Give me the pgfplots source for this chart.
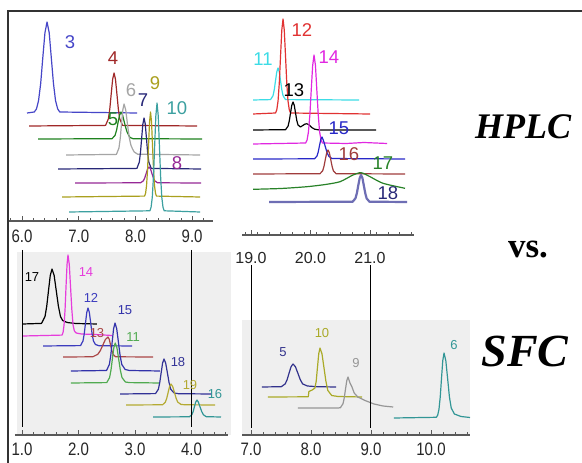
\documentclass[border=0pt]{standalone}
\usepackage{pgfplots}
\pgfplotsset{compat=1.18}
\usepackage{fontspec}
\setmainfont{Liberation Sans}
\newfontfamily\timesfont{Liberation Serif}
\definecolor{c3}{RGB}{70,70,200}
\definecolor{c4}{RGB}{160,40,40}
\definecolor{c5}{RGB}{30,130,30}
\definecolor{c6}{RGB}{165,165,165}
\definecolor{c7}{RGB}{40,40,120}
\definecolor{c8}{RGB}{150,40,150}
\definecolor{c9}{RGB}{170,160,30}
\definecolor{c10}{RGB}{60,160,160}
\definecolor{c11}{RGB}{60,220,230}
\definecolor{c12}{RGB}{225,50,50}
\definecolor{c14}{RGB}{225,40,225}
\definecolor{c15}{RGB}{40,40,200}
\definecolor{c16}{RGB}{160,60,60}
\definecolor{c17}{RGB}{40,130,40}
\definecolor{c18}{RGB}{110,110,180}
\definecolor{s14}{RGB}{230,60,220}
\definecolor{s12}{RGB}{60,60,190}
\definecolor{s13}{RGB}{170,70,70}
\definecolor{s15}{RGB}{50,50,170}
\definecolor{s11}{RGB}{80,170,80}
\definecolor{s18}{RGB}{50,50,150}
\definecolor{s19}{RGB}{180,170,50}
\definecolor{s16}{RGB}{50,150,150}
\definecolor{s5}{RGB}{50,50,140}
\definecolor{s10}{RGB}{170,170,40}
\definecolor{s9}{RGB}{150,150,150}
\definecolor{bggray}{RGB}{239,239,239}
\newcommand{\tl}[1]{\scalebox{1}[1.2]{#1}}
\pgfplotsset{
  panel/.style={
    axis x line=bottom, axis y line=none,
    x axis line style={-, draw=black!65, line width=1.2pt},
    tick align=inside, major tick length=5pt, minor tick length=3pt,
    every tick/.style={draw=black!65, line width=0.6pt},
    clip=false, y=1pt, anchor=south west,
    xticklabel style={text=black!85},
    every axis plot/.append style={line width=1.2pt, line join=round},
  }
}
\begin{document}
\begin{tikzpicture}
\useasboundingbox (0pt,0pt) rectangle (582pt,463pt);
\fill[white] (0pt,0pt) rectangle (582pt,463pt);
% grey backgrounds of SFC panels
\fill[bggray] (17pt,28pt) rectangle (231pt,211pt);
\fill[bggray] (242pt,28pt) rectangle (470pt,143pt);

% ---------- HPLC 6-9 min ----------
\begin{axis}[panel, at={(9pt,242pt)}, x=56.7pt, xmin=5.77, xmax=9.37, ymin=242, ymax=455,
  xtick={6,7,8,9}, xticklabels={\tl{6.0},\tl{7.0},\tl{8.0},\tl{9.0}}, minor xtick={5.8,6.0,...,9.3},
  xticklabel style={font=\fontsize{15}{15}\selectfont, yshift=-5pt}]
\addplot[c3] coordinates {(6.088,350) (6.216,351.0) (6.254,354.0) (6.291,362.3) (6.329,379.6) (6.366,405.2) (6.404,430.3) (6.441,441) (6.479,430.3) (6.516,405.2) (6.554,379.6) (6.591,362.3) (6.629,354.0) (6.666,351.0) (8.028,350)};
\addplot[c4] coordinates {(6.123,337) (7.473,337.6) (7.523,344.2) (7.548,354.2) (7.573,369.2) (7.598,383.7) (7.623,390) (7.648,383.7) (7.673,369.2) (7.698,354.2) (7.723,344.2) (7.773,337.6) (9.086,337)};
\addplot[c5] coordinates {(6.282,324) (7.587,324.3) (7.640,327.6) (7.667,332.8) (7.693,340.4) (7.720,347.8) (7.746,351) (7.773,348) (7.799,342) (7.826,336) (7.852,331) (7.879,328) (7.905,325.5) (7.958,324.3) (9.175,324)};
\addplot[c6] coordinates {(6.776,308) (7.664,308.6) (7.709,314.9) (7.732,324.6) (7.754,339) (7.777,353) (7.799,359) (7.829,353) (7.859,339) (7.889,326) (7.919,318) (7.949,314) (7.979,311) (8.039,308.8) (9.139,308)};
\addplot[c7] coordinates {(6.635,294) (8.026,294.6) (8.068,300.9) (8.089,310.6) (8.110,325) (8.131,339) (8.152,345) (8.173,339) (8.194,325) (8.215,310.6) (8.236,300.9) (8.278,294.6) (9.157,294)};
\addplot[c8] coordinates {(6.935,280) (8.090,280.2) (8.140,282.2) (8.165,285.2) (8.190,289.7) (8.215,294.1) (8.240,296) (8.265,294.1) (8.290,289.7) (8.315,285.2) (8.340,282.2) (8.390,280.2) (9.157,280)};
\addplot[c9] coordinates {(6.705,266) (8.161,266.9) (8.179,269.7) (8.196,277.5) (8.214,293.6) (8.231,317.6) (8.249,341) (8.266,351) (8.284,341) (8.301,317.6) (8.319,293.6) (8.336,277.5) (8.354,269.7) (8.371,266.9) (9.139,266)};
\addplot[c10] coordinates {(6.829,251) (8.255,252.2) (8.276,255.8) (8.297,265.7) (8.318,286.4) (8.339,317.2) (8.360,347.1) (8.381,360) (8.402,347.1) (8.423,317.2) (8.444,286.4) (8.465,265.7) (8.486,255.8) (8.507,252.2) (9.139,251)};
\end{axis}

% ---------- HPLC 19-21 min ----------
\begin{axis}[panel, at={(242.1pt,228pt)}, x=59.5pt, xmin=18.85, xmax=21.74, ymin=228, ymax=455,
  xtick={19,20,21}, xticklabels={19.0,20.0,21.0}, minor xtick={18.9,19.1,...,21.7},
  xticklabel style={font=\fontsize{16}{16}\selectfont, yshift=-13.5pt}]
\addplot[c11] coordinates {(19.034,363) (19.328,363.4) (19.370,367.3) (19.391,373.4) (19.412,382.4) (19.433,391.2) (19.454,395) (19.475,391.2) (19.496,382.4) (19.517,373.4) (19.538,367.3) (19.580,363.4) (20.815,363)};
\addplot[c12] coordinates {(19.034,349) (19.412,350) (19.433,353.2) (19.454,361.8) (19.475,379.9) (19.496,406.7) (19.517,432.8) (19.538,444) (19.559,432.8) (19.580,406.7) (19.601,379.9) (19.622,361.8) (19.643,353.2) (19.664,350) (21.0,349)};
\addplot[black] coordinates {(19.034,333) (19.580,333.3) (19.622,336.8) (19.643,342.1) (19.664,350) (19.685,357.7) (19.706,361) (19.727,357.7) (19.748,350) (19.769,342.5) (19.790,338) (19.83,336) (19.87,337.5) (19.91,339) (19.94,339.2) (19.98,338) (20.02,335.5) (20.07,333.8) (20.15,333) (21.101,333)};
\addplot[c14] coordinates {(19.034,319) (19.918,320) (19.942,322.9) (19.965,331) (19.989,347.9) (20.012,373) (20.036,397.5) (20.059,408) (20.083,397.5) (20.106,373) (20.130,347.9) (20.153,331) (20.177,322.9) (20.200,320) (20.6,319.5) (20.9,320.5) (21.286,319.5)};
\addplot[c15] coordinates {(19.034,304) (20.067,304.2) (20.109,307) (20.130,311.2) (20.151,317.4) (20.172,323.4) (20.193,326) (20.22,322) (20.25,316) (20.28,310) (20.31,306.5) (20.36,304.5) (21.588,304)};
\addplot[c16] coordinates {(19.034,289) (20.159,289.3) (20.204,292.2) (20.227,296.8) (20.249,303.6) (20.272,310.2) (20.294,313) (20.317,310.2) (20.339,303.6) (20.362,296.8) (20.384,292.2) (20.429,289.3) (21.588,289)};
\addplot[c17, smooth, tension=0.4] coordinates {(19.034,273.7) (19.5,274.5) (19.941,276.3) (20.25,278.5) (20.496,281.3) (20.714,288) (20.849,290.3) (21.0,286.3) (21.218,279.7) (21.588,274.7)};
\addplot[c18, line width=2.2pt] coordinates {(19.303,261) (20.708,261.3) (20.755,264.6) (20.779,269.8) (20.802,277.4) (20.826,284.8) (20.849,288) (20.873,284.8) (20.896,277.4) (20.920,269.8) (20.943,264.6) (20.990,261.3) (21.622,261)};
\end{axis}

% ---------- SFC 1-4 min ----------
\begin{axis}[panel, at={(15pt,28pt)}, x=56.5pt, xmin=0.876, xmax=4.65, ymin=28, ymax=220,
  xtick={1,2,3,4}, xticklabels={\tl{1.0},\tl{2.0},\tl{3.0},\tl{4.0}}, minor xtick={1.0,1.2,...,4.7},
  xticklabel style={font=\fontsize{15}{15}\selectfont, yshift=-4pt}]
\addplot[black] coordinates {(1.018,139) (1.345,139.6) (1.407,146.4) (1.438,156.9) (1.469,172.4) (1.500,187.5) (1.531,194) (1.569,187.5) (1.606,172.4) (1.644,156.9) (1.681,146.4) (1.72,142.5) (1.80,140.5) (1.95,139.5) (2.327,139)};
\addplot[s14] coordinates {(1.018,127) (1.709,127.9) (1.727,130.6) (1.744,137.9) (1.762,153.3) (1.779,176.2) (1.797,198.4) (1.814,208) (1.837,198.4) (1.859,176.2) (1.882,153.3) (1.904,137.9) (1.927,132) (1.96,130) (2.05,129) (2.3,128.5) (2.593,127.5)};
\addplot[s12] coordinates {(1.372,117) (2.036,117.4) (2.080,122.1) (2.102,129.4) (2.124,140.1) (2.146,150.5) (2.168,155) (2.192,150.5) (2.216,140.1) (2.240,129.4) (2.264,122.1) (2.30,118.5) (2.36,117.3) (2.947,117)};
\addplot[s13] coordinates {(1.726,106) (2.252,106.2) (2.342,108.7) (2.387,112.5) (2.432,118.1) (2.477,123.6) (2.522,126) (2.545,123.6) (2.567,118.1) (2.590,112.5) (2.612,108.7) (2.657,106.2) (3.319,106)};
\addplot[s15] coordinates {(1.867,92) (2.496,92.5) (2.546,98.5) (2.571,107.6) (2.596,121.1) (2.621,134.3) (2.646,140) (2.676,134.3) (2.706,121.1) (2.736,107.6) (2.766,98.5) (2.826,93.5) (2.9,92.5) (3.442,92)};
\addplot[s11] coordinates {(1.867,80) (2.50,80.4) (2.55,85.4) (2.575,93) (2.60,104.3) (2.625,115.3) (2.65,120) (2.68,115.3) (2.71,104.3) (2.74,93) (2.77,85.4) (2.83,81) (2.9,80.4) (3.442,80)};
\addplot[s18] coordinates {(2.735,69) (3.363,69.4) (3.413,73.7) (3.438,80.4) (3.463,90.2) (3.488,99.9) (3.513,104) (3.543,99.9) (3.573,90.2) (3.603,80.4) (3.633,73.7) (3.693,70) (3.77,69.3) (4.345,69)};
\addplot[s19] coordinates {(2.841,58) (3.487,58.2) (3.537,60.8) (3.562,64.8) (3.587,70.7) (3.612,76.5) (3.637,79) (3.667,76.5) (3.697,70.7) (3.727,64.8) (3.757,60.8) (3.817,58.5) (3.9,58.2) (4.416,58)};
\addplot[s16] coordinates {(3.319,46) (3.962,46.2) (4.007,48.3) (4.030,51.5) (4.052,56.3) (4.075,61) (4.097,63) (4.12,61) (4.15,56.3) (4.18,51.5) (4.21,48.3) (4.26,46.3) (4.522,46)};
\end{axis}

% ---------- SFC 7-10 min ----------
\begin{axis}[panel, at={(242pt,28pt)}, x=60pt, xmin=6.85, xmax=10.65, ymin=28, ymax=150,
  xtick={7,8,9,10}, xticklabels={\tl{7.0},\tl{8.0},\tl{9.0},\tl{10.0}}, minor xtick={7.0,7.2,...,10.7},
  xticklabel style={font=\fontsize{15}{15}\selectfont, yshift=-4pt}]
\addplot[s5] coordinates {(7.183,76) (7.505,76.3) (7.57,79.1) (7.603,83.5) (7.635,90) (7.668,96.3) (7.70,99) (7.74,96.3) (7.78,90) (7.82,83.5) (7.86,79.1) (7.94,77) (8.1,76.3) (8.417,76)};
\addplot[s10] coordinates {(7.283,66) (7.955,66.2) (7.965,71.5) (8.02,73) (8.066,75) (8.087,81.9) (8.108,95.7) (8.129,109.2) (8.15,115) (8.183,109.2) (8.215,95.7) (8.248,81.9) (8.28,72.6) (8.345,67.5) (8.45,66.5) (8.85,66)};
\addplot[s9] coordinates {(7.783,55) (8.45,55) (8.49,55.3) (8.533,59.2) (8.554,65) (8.575,73.8) (8.596,82.3) (8.617,86) (8.65,80) (8.683,76) (8.72,70) (8.78,66) (8.9,62.5) (9.05,59) (9.2,57) (9.37,56)};
\addplot[s16] coordinates {(9.383,45) (10.09,45.7) (10.112,47.9) (10.133,53.8) (10.154,66.1) (10.175,84.5) (10.196,102.3) (10.217,110) (10.247,102.3) (10.277,84.5) (10.307,66.1) (10.337,55) (10.39,49) (10.5,46.5) (10.65,45.5)};
\end{axis}

% guide lines linking HPLC and SFC time axes
\draw[black, line width=0.7pt] (22pt,213pt) -- (22pt,36pt);
\draw[black, line width=0.7pt] (191pt,213pt) -- (191pt,36pt);
\draw[black, line width=0.7pt] (251pt,198pt) -- (251pt,35pt);
\draw[black, line width=0.7pt] (370pt,198pt) -- (370pt,35pt);

% frame
\draw[line width=2pt, black!80] (8pt,0pt) -- (8pt,452pt) -- (582pt,452pt);

% peak labels, HPLC
\begin{scope}[every node/.style={font=\fontsize{18.5}{18.5}\selectfont, inner sep=0pt}]
\node[text=c3] at (70pt,421pt) {3};
\node[text=c4] at (113pt,405pt) {4};
\node[text=c5] at (113pt,344pt) {5};
\node[text=c6] at (131pt,373pt) {6};
\node[text=c7] at (143pt,363pt) {7};
\node[text=c8] at (177pt,300pt) {8};
\node[text=c9] at (155pt,380pt) {9};
\node[text=c10] at (177pt,355pt) {10};
\node[text=c11] at (263pt,404pt) {11};
\node[text=c12] at (302pt,433pt) {12};
\node[text=black] at (294pt,373pt) {13};
\node[text=c14] at (329pt,406pt) {14};
\node[text=c15] at (339pt,335pt) {15};
\node[text=c16] at (349pt,309pt) {16};
\node[text=c17] at (383pt,300pt) {17};
\node[text=c7] at (388pt,270pt) {18};
\end{scope}
% peak labels, SFC
\begin{scope}[every node/.style={font=\fontsize{13}{13}\selectfont, inner sep=0pt}]
\node[text=black] at (32pt,186pt) {17};
\node[text=s14] at (86pt,191pt) {14};
\node[text=s12] at (91pt,165pt) {12};
\node[text=s13] at (97pt,130pt) {13};
\node[text=s15] at (125pt,153pt) {15};
\node[text=s11] at (133pt,126pt) {11};
\node[text=s18] at (178pt,101pt) {18};
\node[text=s19] at (190pt,78pt) {19};
\node[text=s16] at (215pt,69pt) {16};
\node[text=s5] at (283pt,111pt) {5};
\node[text=s10] at (322pt,130pt) {10};
\node[text=s9] at (356pt,100pt) {9};
\node[text=s16] at (454pt,118pt) {6};
\end{scope}

% titles
\node[font=\timesfont\bfseries\itshape\fontsize{36}{36}\selectfont, inner sep=0pt] at (523pt,336pt) {HPLC};
\node[font=\timesfont\bfseries\fontsize{35}{35}\selectfont, inner sep=0pt] at (528pt,213pt) {vs.};
\node[font=\timesfont\bfseries\itshape\fontsize{46}{46}\selectfont, inner sep=0pt] at (525pt,111pt) {SFC};
\end{tikzpicture}
\end{document}
